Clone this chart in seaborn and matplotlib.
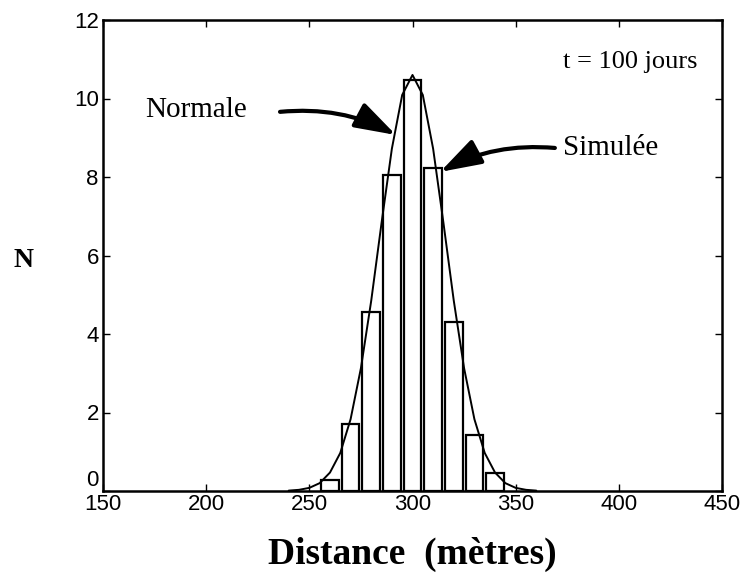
import numpy as np
import pandas as pd
import matplotlib
matplotlib.use("Agg")
import matplotlib.pyplot as plt
import seaborn as sns

# Histogram (simulated) - bin centres (m) and counts N
bin_centers = [260, 270, 280, 290, 300, 310, 320, 330, 340]
bin_heights = [0.28, 1.71, 4.56, 8.05, 10.47, 8.23, 4.31, 1.43, 0.45]

# Normal curve
curve_x = [240, 245, 250, 255, 260, 265, 270, 275, 280, 285, 290, 295, 300,
           305, 310, 315, 320, 325, 330, 335, 340, 345, 350, 355, 360]
curve_y = [0.01, 0.03, 0.08, 0.20, 0.47, 0.97, 1.83, 3.13, 4.85, 6.83, 8.72, 10.09, 10.6,
           10.09, 8.72, 6.83, 4.85, 3.13, 1.83, 0.97, 0.47, 0.20, 0.08, 0.03, 0.01]

x_ticks = [150, 200, 250, 300, 350, 400, 450]
y_ticks = [0, 2, 4, 6, 8, 10, 12]

sns.set_style("white")
plt.rcParams['font.family'] = ['Liberation Sans', 'DejaVu Sans']
plt.rcParams['text.color'] = 'black'

fig = plt.figure(figsize=(7.44, 5.81), dpi=100)
ax = fig.add_axes([103/744, 1-491/581, (722-103)/744, (491-20)/581])

df_bars = pd.DataFrame({"x": bin_centers, "N": bin_heights})
sns.barplot(data=df_bars, x="x", y="N", native_scale=True, width=0.85,
            color="white", edgecolor="black", linewidth=1.6, ax=ax, errorbar=None)

df_curve = pd.DataFrame({"x": curve_x, "y": curve_y})
sns.lineplot(data=df_curve, x="x", y="y", color="black", linewidth=1.4, ax=ax)

ax.set_xlim(150, 450)
ax.set_ylim(0, 12)
ax.set_xticks(x_ticks)
ax.set_yticks(y_ticks)
ax.set_xticklabels([str(v) for v in x_ticks], fontsize=16, color="black")
ylabels = ax.set_yticklabels([str(v) for v in y_ticks], fontsize=16, color="black")
ylabels[0].set_va("bottom")
ax.tick_params(direction="in", length=5, width=1, top=True, right=True,
               bottom=True, left=True, pad=3, colors="black")
ax.tick_params(axis="x", pad=2)
for s in ax.spines.values():
    s.set_visible(True)
    s.set_color("black")
    s.set_linewidth(1.8)

serif = ['Liberation Serif', 'DejaVu Serif']
ax.set_xlabel("Distance  (mètres)", fontsize=27, fontweight="bold", family=serif,
              labelpad=16, color="black")
ax.set_ylabel("N", fontsize=20, fontweight="bold", family=serif, rotation=0,
              labelpad=40, va="center", color="black")
ax.yaxis.set_label_coords(-0.128, 0.49)

ax.text(405.5, 10.93, "t = 100 jours", fontsize=19, family=serif, ha="center", va="center", color="black")
ax.text(195, 9.71, "Normale", fontsize=21, family=serif, ha="center", va="center", color="black")
ax.text(396, 8.75, "Simulée", fontsize=21, family=serif, ha="center", va="center", color="black")

arrow_kw = dict(arrowstyle="-|>,head_length=1.4,head_width=0.45", color="black",
                lw=3, mutation_scale=18, shrinkA=0, shrinkB=0)
ax.annotate("", xy=(292.0, 9.07), xytext=(235.8, 9.66),
            arrowprops=dict(connectionstyle="arc3,rad=-0.15", **arrow_kw))
ax.annotate("", xy=(313.4, 8.13), xytext=(369.0, 8.74),
            arrowprops=dict(connectionstyle="arc3,rad=0.15", **arrow_kw))

fig.savefig("out.png", dpi=100)
